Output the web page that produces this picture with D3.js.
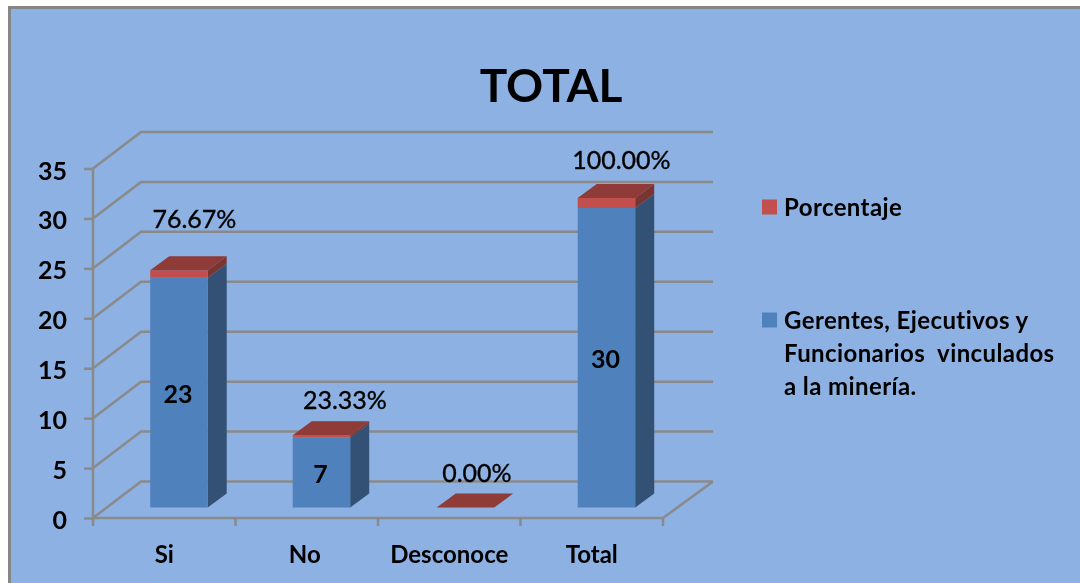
<!DOCTYPE html>
<html><head><meta charset="utf-8">
<script src="https://cdn.jsdelivr.net/npm/d3@7"></script>
<style>
html,body{margin:0;padding:0;background:#fff}
svg{display:block}
text{font-family:Lato,"Open Sans",sans-serif;fill:#000;font-variant-ligatures:none}
</style></head><body><svg id="c" width="1080" height="583"></svg>
<script>
const categories = ["Si","No","Desconoce","Total"];
const gerentes = [23,7,0,30];
const porcentaje = [0.7667,0.2333,0,1];
const percentLabels = ["76.67%","23.33%","0.00%","100.00%"];
const yTicks = [0,5,10,15,20,25,30,35];
const title = "TOTAL";
const legendRows = [
  {name:"Porcentaje", color:"#c0504d", lines:["Porcentaje"]},
  {name:"Gerentes", color:"#4f81bd", lines:["Gerentes, Ejecutivos y","Funcionarios  vinculados","a la minería."]}
];

const W=1080,H=583;
const svg=d3.select("#c");
const defs=svg.append("defs");
defs.append("filter").attr("id","soft").append("feGaussianBlur").attr("stdDeviation",0.4);
const root=svg.append("g").attr("filter","url(#soft)");

// frame
root.append("rect").attr("x",9.5).attr("y",7.5).attr("width",W+20).attr("height",H+20)
  .attr("fill","#8db1e2").attr("stroke","#868686").attr("stroke-width",3);

const x0=93,x1=663,yBase=518,yTop=168.5;
const depthX=48,depthY=-36.5;
const x=d3.scaleBand().domain(categories).range([x0,x1]);
const y=d3.scaleLinear().domain([0,35]).range([yBase,yTop]);
const grey="#8a8a8a";
const lineW=2.5;
const path=pts=>d3.line()(pts)+"Z";

// walls: gridlines (front-left edge -> back -> right)
root.append("g").selectAll("path").data(yTicks).join("path")
  .attr("d",d=>d3.line()([[x0,y(d)],[x0+depthX,y(d)+depthY],[x1+depthX+2,y(d)+depthY]]))
  .attr("fill","none").attr("stroke",grey).attr("stroke-width",lineW);
// floor front/right edge
root.append("path").attr("d",d3.line()([[x0,yBase],[x1,yBase],[x1+depthX+2,yBase+depthY]]))
  .attr("fill","none").attr("stroke",grey).attr("stroke-width",lineW);

// y axis
const yAxis=root.append("g").attr("transform",`translate(${x0},0)`)
  .call(d3.axisLeft(y).tickValues(yTicks).tickSize(9).tickPadding(17).tickFormat(d3.format("d")));
yAxis.selectAll("path,line").attr("stroke",grey).attr("stroke-width",lineW);
yAxis.select(".domain").attr("d",`M0,${yTop}V${yBase+3}`);
yAxis.selectAll("text").attr("font-size",25).attr("font-weight",700).attr("dy","0.42em");

// x axis
const xAxis=root.append("g").attr("transform",`translate(0,${yBase})`)
  .call(d3.axisBottom(x).tickSize(0).tickPadding(37));
xAxis.select(".domain").remove();
xAxis.selectAll("text").attr("font-size",24).attr("font-weight",700).attr("dy","0.32em")
  .attr("dx",d=>d==="No"?-2:0);
root.append("g").selectAll("line").data(d3.range(categories.length+1)).join("line")
  .attr("x1",i=>x0+i*x.step()).attr("x2",i=>x0+i*x.step())
  .attr("y1",yBase).attr("y2",yBase+8).attr("stroke",grey).attr("stroke-width",lineW);

// bars
const barW=57.5, barDX=19, barDY=-14, barShiftX=14, barShiftY=-10.5;
const barNudge=[0.2,0.2,1.7,0.2];
const cx=c=>x(c)+x.bandwidth()/2+barShiftX+0.5+barNudge[categories.indexOf(c)];
const py=v=>y(v)+barShiftY;
const prism=(g,c,v0,v1,front,side,top)=>{
  const l=cx(c)-barW/2,r=cx(c)+barW/2;
  if(v1>v0){
    g.append("path").attr("d",path([[r,py(v0)],[r+barDX,py(v0)+barDY],[r+barDX,py(v1)+barDY],[r,py(v1)]])).attr("fill",side);
    g.append("path").attr("d",path([[l,py(v0)],[r,py(v0)],[r,py(v1)],[l,py(v1)]])).attr("fill",front);
  }
  if(top) g.append("path").attr("d",path([[l,py(v1)],[r,py(v1)],[r+barDX,py(v1)+barDY],[l+barDX,py(v1)+barDY]])).attr("fill",top);
};
const bars=root.append("g");
categories.forEach((c,i)=>{
  const g=bars.append("g");
  prism(g,c,0,gerentes[i],"#4f81bd","#305175",null);
  prism(g,c,gerentes[i],gerentes[i]+porcentaje[i],"#c0504d","#7a3533","#8f3a38");
});

// value labels
root.append("g").selectAll("text").data(categories.filter((c,i)=>gerentes[i]>0)).join("text")
  .attr("x",c=>cx(c)-1).attr("y",c=>py(gerentes[categories.indexOf(c)]/2)+10)
  .attr("text-anchor","middle").attr("font-size",25).attr("font-weight",700)
  .text(c=>gerentes[categories.indexOf(c)]);
// percentage labels were placed by hand in the source chart
const labelDX=[15.5,23.5,11.5,15];
const labelDY=[-42,-26,-26,-29];
root.append("g").selectAll("text").data(categories).join("text")
  .attr("x",(c,i)=>cx(c)+labelDX[i]).attr("y",(c,i)=>py(gerentes[i]+porcentaje[i])+labelDY[i])
  .attr("text-anchor","middle").attr("font-size",25).attr("font-weight",400)
  .attr("stroke","#000").attr("stroke-width",0.35)
  .text((c,i)=>percentLabels[i]);

// title
root.append("text").attr("x",551).attr("y",102).attr("text-anchor","middle")
  .attr("font-size",46).attr("font-weight",700).text(title);

// legend
const legendY=[207,320];
const lg=root.append("g").selectAll("g").data(legendRows).join("g");
lg.append("rect").attr("x",762).attr("y",(d,i)=>legendY[i]-7.5).attr("width",15).attr("height",15).attr("fill",d=>d.color);
lg.selectAll("text").data((d,i)=>d.lines.map((t,j)=>({t,j,i}))).join("text")
  .attr("x",784).attr("y",d=>legendY[d.i]+9+d.j*33).style("white-space","pre")
  .attr("font-size",24).attr("letter-spacing",0.4).attr("font-weight",700).text(d=>d.t);
</script></body></html>
